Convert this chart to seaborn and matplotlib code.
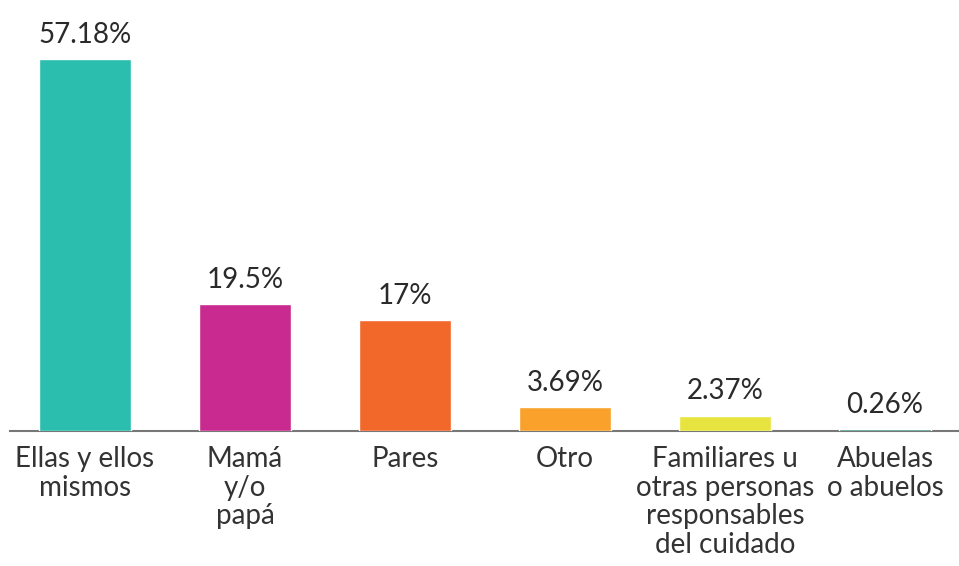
import matplotlib
matplotlib.use("Agg")
import matplotlib.pyplot as plt
import seaborn as sns
import pandas as pd

# Data ------------------------------------------------------------------------
categorias = ["Ellas y ellos\nmismos", "Mamá\ny/o\npapá", "Pares", "Otro",
              "Familiares u\notras personas\nresponsables\ndel cuidado",
              "Abuelas\no abuelos"]
valores = [57.18, 19.5, 17, 3.69, 2.37, 0.26]
etiquetas = ["57.18%", "19.5%", "17%", "3.69%", "2.37%", "0.26%"]
colores = ["#2BBDAD", "#C92A8F", "#F2672A", "#F9A12B", "#E8E43F", "#1A7F6E"]

df = pd.DataFrame({"categoria": categorias, "valor": valores})

# Plot ------------------------------------------------------------------------
sns.set_style("white")
plt.rcParams["font.family"] = ["Lato", "DejaVu Sans"]

fig = plt.figure(figsize=(9.59, 5.66), dpi=100)
ax = fig.add_axes([10 / 959, 135 / 566, 949 / 959, 431 / 566])

# bars drawn above the baseline so the tiny one still shows
sns.barplot(data=df, x="categoria", y="valor", hue="categoria",
            palette=colores, legend=False, width=0.57, saturation=1,
            zorder=3, ax=ax)

for cont, txt in zip(ax.containers, etiquetas):
    ax.bar_label(cont, labels=[txt], padding=8, fontsize=20,
                 color="#2a2a2a")

ax.set_xlim(-0.469, 5.4625)
ax.set_ylim(0, 66.25)
ax.set_xlabel("")
ax.set_ylabel("")
ax.set_yticks([])
ax.tick_params(axis="x", length=0, pad=11, labelsize=20, labelcolor="#333333")
for lbl in ax.get_xticklabels():
    lbl.set_linespacing(1.12)

sns.despine(ax=ax, left=True, top=True, right=True)
ax.spines["bottom"].set_color("#777777")
ax.spines["bottom"].set_linewidth(1.5)
ax.spines["bottom"].set_zorder(1)

fig.savefig("out.png", dpi=100)
